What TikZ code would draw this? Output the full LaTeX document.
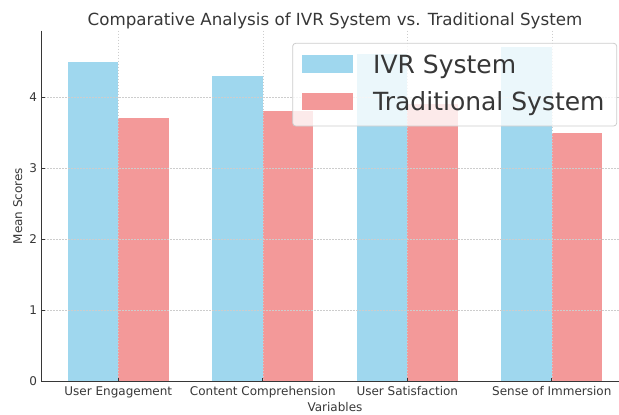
\documentclass[tikz,border=0pt]{standalone}
\usepackage{fontspec}
\setmainfont{DejaVu Sans}
\definecolor{ivr}{RGB}{159,215,238}
\definecolor{trad}{RGB}{243,153,153}
\definecolor{ink}{RGB}{55,55,55}
\definecolor{gridc}{RGB}{205,205,205}
\definecolor{legborder}{RGB}{204,204,204}
\begin{document}
\begin{tikzpicture}[x=1pt,y=-1pt,
  ticklab/.style={inner sep=0pt,text=ink,font=\fontsize{12}{14}\selectfont},
  gridline/.style={gridc,line width=0.6pt,dash pattern=on 1.6pt off 1.4pt},
  spine/.style={ink,line width=0.9pt},
  legtext/.style={inner sep=0pt,anchor=base west,text=ink,font=\fontsize{25}{30}\selectfont}]
\useasboundingbox (0,0) rectangle (619,415);
% bars
\foreach \i/\a/\b in {0/4.5/3.7,1/4.3/3.8,2/4.6/3.9,3/4.7/3.5}{
  \fill[ivr] ({118.3+144.5*\i-50.5},381) rectangle ({118.3+144.5*\i},{381-71*\a});
  \fill[trad] ({118.3+144.5*\i},381) rectangle ({118.3+144.5*\i+50.5},{381-71*\b});
}
% grid
\foreach \v in {1,2,3,4}{
  \draw[gridline] (41,{381-71*\v}) -- (619,{381-71*\v});
}
\foreach \i in {0,1,2,3}{
  \draw[gridline] ({118.3+144.5*\i},30.6) -- ({118.3+144.5*\i},381);
}
% spines
\draw[spine] (41,30.6) -- (41,381) -- (619,381);
% ticks and labels
\foreach \v in {0,1,2,3,4}{
  \draw[spine] (41,{381-71*\v}) -- (44.5,{381-71*\v});
  \node[ticklab,anchor=east] (yt\v) at (37.3,{381-71*\v}) {\v};
}
\foreach \i/\t in {0/User Engagement,1/Content Comprehension,2/User Satisfaction,3/Sense of Immersion}{
  \draw[spine] ({118.3+144.5*\i},381) -- ({118.3+144.5*\i},377.5);
  \node[ticklab,anchor=base] (xt\i) at ({118.3+144.5*\i},395.7) {\t};
}
\node[ticklab,anchor=base] (xlabel) at (335,411) {Variables};
\node[ticklab,rotate=90,anchor=base] (ylabel) at (22,206) {Mean Scores};
\node[inner sep=0pt,anchor=base,text=ink,font=\fontsize{16.7}{20}\selectfont] (title) at (335,25) {Comparative Analysis of IVR System vs. Traditional System};
% legend
\fill[white,opacity=0.8,rounded corners=3pt] (292.7,43.3) rectangle (616.7,126);
\draw[legborder,line width=0.8pt,rounded corners=3pt] (292.7,43.3) rectangle (616.7,126);
\fill[ivr] (301.7,55) rectangle (353,72.7);
\fill[trad] (301.7,93.3) rectangle (353,110);
\node[legtext] (leg1) at (373,73.3) {IVR System};
\node[legtext] (leg2) at (373,110.7) {Traditional System};
\end{tikzpicture}
\end{document}
